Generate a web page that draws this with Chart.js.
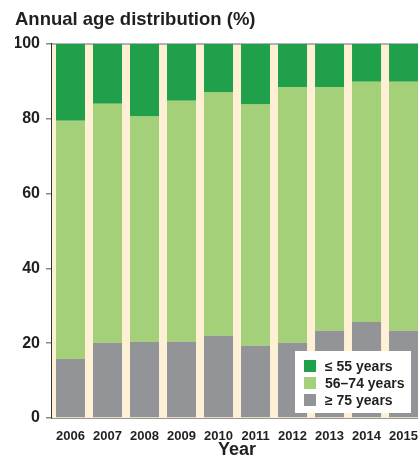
<!DOCTYPE html>
<html>
<head>
<meta charset="utf-8">
<script src="https://cdn.jsdelivr.net/npm/chart.js@4/dist/chart.umd.min.js"></script>
<style>
  html, body { margin: 0; padding: 0; overflow: hidden; background: #ffffff; }
  #c { display: block; }
</style>
</head>
<body>
<canvas id="c" width="429" height="470" style="width:429px;height:470px"></canvas>
<script>
const years = ['2006','2007','2008','2009','2010','2011','2012','2013','2014','2015'];
const age75plus = [15.8, 20.1, 20.4, 20.4, 22.0, 19.3, 20.1, 23.3, 25.7, 23.3];
const age56to74 = [63.7, 63.9, 60.2, 64.4, 65.0, 64.5, 68.4, 65.2, 64.2, 66.6];
const age55less = [20.5, 16.0, 19.4, 15.2, 13.0, 16.2, 11.5, 11.5, 10.1, 10.1];
const yTicks = [0, 20, 40, 60, 80, 100];

const FONT = "'Liberation Sans', Arial, Helvetica, sans-serif";
const TEXT = '#231f20';

const areaBg = {
  id: 'areaBg',
  beforeDatasetsDraw(chart) {
    const {ctx, chartArea: a} = chart;
    ctx.save();
    ctx.fillStyle = '#fef0d5';
    ctx.fillRect(a.left, a.top, a.right - a.left, a.bottom - a.top);
    ctx.strokeStyle = '#9a9a9a';
    ctx.lineWidth = 1.5;
    ctx.beginPath();
    ctx.moveTo(a.left, a.top);
    ctx.lineTo(a.right, a.top);
    ctx.stroke();
    ctx.restore();
  }
};

const boxLegend = {
  id: 'boxLegend',
  afterDraw(chart) {
    const {ctx} = chart;
    const order = [2, 1, 0];
    const x = 295, y = 351, w = 116, h = 62;
    ctx.save();
    ctx.fillStyle = '#ffffff';
    ctx.fillRect(x, y, w, h);
    ctx.font = "bold 14px " + FONT;
    ctx.textBaseline = 'middle';
    order.forEach((di, i) => {
      const ds = chart.data.datasets[di];
      const cy = y + 15 + i * 17;
      ctx.fillStyle = ds.backgroundColor;
      ctx.fillRect(x + 9, cy - 6, 12, 12);
      ctx.fillStyle = TEXT;
      ctx.fillText(ds.label, x + 30, cy + 1);
    });
    ctx.restore();
  }
};

new Chart(document.getElementById('c'), {
  type: 'bar',
  data: {
    labels: years,
    datasets: [
      { label: '≥ 75 years', data: age75plus, backgroundColor: '#939497' },
      { label: '56–74 years', data: age56to74, backgroundColor: '#a3d078' },
      { label: '≤ 55 years', data: age55less, backgroundColor: '#21a04c' }
    ]
  },
  options: {
    responsive: false,
    maintainAspectRatio: false,
    devicePixelRatio: 1,
    animation: false,
    events: [],
    layout: { padding: { left: 15, right: 0, top: 0, bottom: 0 } },
    datasets: { bar: { categoryPercentage: 1.0, barPercentage: 0.784, borderWidth: 0 } },
    plugins: {
      legend: { display: false },
      tooltip: { enabled: false },
      title: {
        display: true,
        text: 'Annual age distribution (%)',
        align: 'start',
        color: TEXT,
        font: { family: FONT, size: 18.5, weight: 'bold' },
        padding: { top: 9, bottom: 12.8 }
      }
    },
    scales: {
      x: {
        stacked: true,
        z: 1,
        grid: { display: false, drawTicks: false },
        border: { display: true, color: '#333333', width: 1.5 },
        ticks: { color: TEXT, font: { family: FONT, size: 13, weight: 'bold' }, padding: 11, maxRotation: 0, autoSkip: false },
        title: { display: true, text: 'Year', color: TEXT, font: { family: FONT, size: 18, weight: 'bold' }, padding: { top: 0, bottom: 9 } },
        afterFit(s) { s.height = 52; }
      },
      y: {
        stacked: true,
        min: 0,
        max: 100,
        afterBuildTicks(s) { s.ticks = yTicks.map(v => ({ value: v })); },
        grid: { drawOnChartArea: false, drawTicks: true, tickLength: 6, color: '#8a8a8a', lineWidth: 1.5 },
        border: { display: true, color: '#333333', width: 1.5 },
        ticks: { color: TEXT, font: { family: FONT, size: 16, weight: 'bold' }, padding: 6 },
        afterFit(s) { s.width = 37; }
      }
    }
  },
  plugins: [areaBg, boxLegend]
});
</script>
</body>
</html>
